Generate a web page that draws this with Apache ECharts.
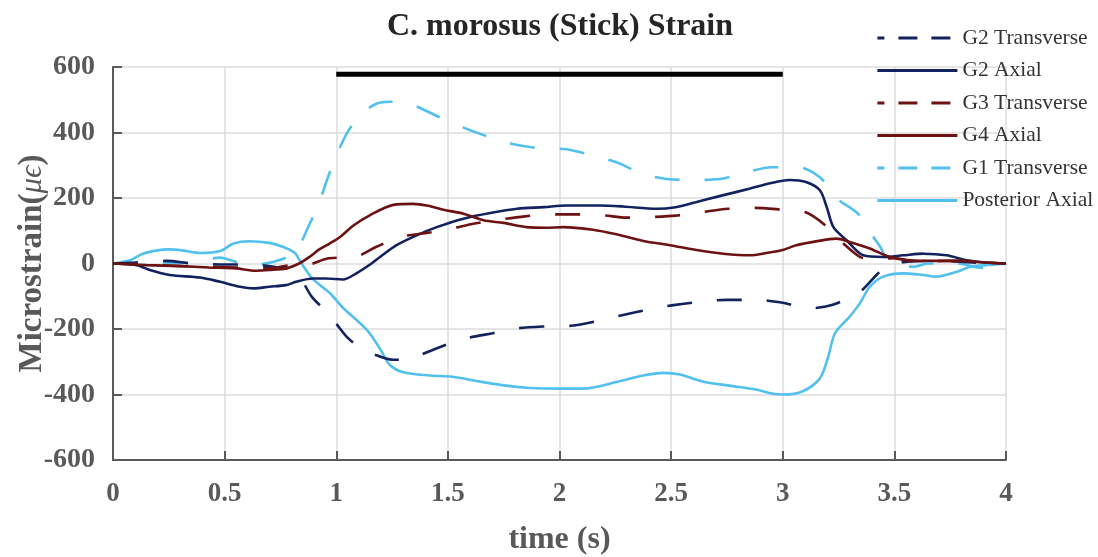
<!DOCTYPE html>
<html>
<head>
<meta charset="utf-8">
<script src="https://cdn.jsdelivr.net/npm/echarts@6/dist/echarts.min.js"></script>
<style>html,body{margin:0;padding:0;background:#fff}#c{width:1098px;height:557px}</style>
</head>
<body>
<div id="c"></div>
<script>
// ---- data (time s, microstrain) ----
const g2Transverse = [[0,0],[0.1,3],[0.24,8],[0.35,0],[0.48,-3],[0.59,-3],[0.72,-10],[0.82,-28],[0.89,-101],[0.97,-157],[1.046,-223],[1.12,-263],[1.2,-285],[1.256,-294],[1.33,-292],[1.36,-284],[1.48,-251],[1.584,-228],[1.70,-213],[1.81,-198],[1.94,-192],[2.054,-190],[2.18,-174],[2.285,-157],[2.405,-140],[2.51,-127],[2.644,-116],[2.75,-111],[2.88,-111],[3.0,-120],[3.115,-137],[3.22,-127],[3.346,-86],[3.42,-35],[3.47,-5],[3.55,5],[3.7,8],[3.85,3],[4,0]];
const g2Axial = [[0,0],[0.106,-5],[0.165,-20],[0.254,-35],[0.39,-43],[0.48,-56],[0.57,-71],[0.63,-76],[0.70,-71],[0.775,-66],[0.82,-56],[0.894,-46],[0.954,-46],[1.03,-49],[1.09,-30],[1.158,0],[1.196,20],[1.27,56],[1.36,86],[1.45,111],[1.57,137],[1.69,154],[1.81,167],[1.93,172],[2.03,177],[2.18,177],[2.285,174],[2.435,167],[2.52,172],[2.61,187],[2.73,208],[2.85,228],[2.943,245],[3.03,255],[3.107,248],[3.167,223],[3.197,172],[3.227,111],[3.286,71],[3.36,25],[3.45,20],[3.54,25],[3.63,30],[3.734,25],[3.824,10],[3.91,3],[4,0]];
const g3Transverse = [[0,0],[0.2,-5],[0.4,-10],[0.6,-13],[0.7,-15],[0.8,-5],[0.86,-5],[0.96,15],[1.02,18],[1.084,20],[1.18,51],[1.285,81],[1.405,93],[1.51,106],[1.62,122],[1.73,134],[1.845,144],[1.965,150],[2.07,150],[2.196,147],[2.3,140],[2.42,142],[2.53,147],[2.64,157],[2.755,167],[2.875,170],[2.987,165],[3.1,157],[3.19,117],[3.28,56],[3.37,15],[3.45,15],[3.5,16],[3.61,4],[3.72,8],[3.83,8],[3.92,3],[4,0]];
const g4Axial = [[0,0],[0.15,-5],[0.30,-8],[0.43,-12],[0.55,-15],[0.64,-22],[0.70,-20],[0.776,-15],[0.834,0],[0.88,20],[0.924,43],[0.97,61],[1.017,81],[1.077,116],[1.15,147],[1.256,179],[1.345,182],[1.405,177],[1.48,164],[1.57,152],[1.66,132],[1.75,124],[1.853,111],[1.94,109],[2.017,111],[2.15,103],[2.255,89],[2.375,69],[2.494,56],[2.614,41],[2.733,30],[2.853,25],[2.927,32],[3.0,41],[3.06,56],[3.137,66],[3.24,76],[3.3,66],[3.39,46],[3.48,20],[3.57,10],[3.69,8],[3.81,8],[3.9,3],[4,0]];
const g1Transverse = [[0,0],[0.1,2],[0.2,3],[0.3,2],[0.4,10],[0.48,18],[0.55,5],[0.6,-3],[0.66,-2],[0.72,5],[0.81,30],[0.84,60],[0.874,111],[0.92,178],[0.96,258],[1.0,329],[1.054,405],[1.12,461],[1.18,488],[1.24,494],[1.3,492],[1.345,484],[1.465,446],[1.57,415],[1.69,385],[1.79,365],[1.91,352],[2.03,349],[2.15,329],[2.255,309],[2.375,273],[2.48,258],[2.6,255],[2.72,258],[2.84,279],[2.95,294],[3.07,294],[3.17,261],[3.24,200],[3.34,150],[3.406,81],[3.44,47],[3.465,15],[3.52,-5],[3.585,-10],[3.65,0],[3.78,0],[3.87,-12],[3.91,-14],[4,0]];
const posteriorAxial = [[0,0],[0.076,10],[0.134,30],[0.2,40],[0.25,43],[0.31,40],[0.39,32],[0.48,38],[0.54,61],[0.61,68],[0.70,63],[0.76,51],[0.815,32],[0.84,5],[0.896,-48],[0.972,-91],[1.03,-135],[1.14,-205],[1.2,-265],[1.24,-310],[1.3,-332],[1.42,-342],[1.52,-346],[1.64,-360],[1.76,-373],[1.87,-380],[2.0,-382],[2.106,-382],[2.256,-362],[2.375,-342],[2.465,-334],[2.54,-339],[2.64,-360],[2.76,-373],[2.88,-385],[2.95,-397],[3.0,-400],[3.09,-390],[3.167,-350],[3.204,-284],[3.234,-213],[3.3,-162],[3.346,-121],[3.39,-71],[3.45,-40],[3.54,-30],[3.63,-35],[3.69,-40],[3.78,-25],[3.84,-10],[3.91,-5],[4,0]];
const stimulusTimes = [1, 3];
const stimulusLevel = 578;
const seriesNames = ['G2 Transverse','G2 Axial','G3 Transverse','G4 Axial','G1 Transverse','Posterior Axial'];

const NAVY = '#12225e', MAROON = '#6c1212', LBLUE = '#52c0ee';
const serif = "'Liberation Serif','Times New Roman',serif";
const GRAY = '#595959';

function mk(name, data, color, dashed, z) {
  return {
    name, type: 'line', data, showSymbol: false, symbol: 'none', smooth: 0.3, z: z,
    lineStyle: { color, width: 2.6, type: dashed ? [25, 25] : 'solid', cap: 'butt' },
    itemStyle: { color }
  };
}

const chart = echarts.init(document.getElementById('c'));
const legendDash = { type: [19, 14], dashOffset: 12, width: 2.8 };
const legendSolid = { width: 2.8 };
const hideSym = { opacity: 0 };
chart.setOption({
  animation: false,
  title: {
    text: 'C. morosus (Stick) Strain', left: 555, top: 6, textAlign: 'center',
    textStyle: { fontFamily: serif, fontWeight: 'bold', fontSize: 32, color: '#262626' }
  },
  legend: {
    orient: 'vertical', left: 871, top: 22, itemWidth: 80, itemHeight: 14, itemGap: 10.5,
    textStyle: { fontFamily: serif, fontSize: 21.5, color: '#333' },
    itemStyle: hideSym,
    data: [
      { name: seriesNames[0], lineStyle: legendDash, itemStyle: hideSym },
      { name: seriesNames[1], lineStyle: legendSolid, itemStyle: hideSym },
      { name: seriesNames[2], lineStyle: legendDash, itemStyle: hideSym },
      { name: seriesNames[3], lineStyle: legendSolid, itemStyle: hideSym },
      { name: seriesNames[4], lineStyle: legendDash, itemStyle: hideSym },
      { name: seriesNames[5], lineStyle: legendSolid, itemStyle: hideSym }
    ]
  },
  grid: { left: 113, right: 92, top: 67, bottom: 97, containLabel: false, outerBoundsMode: 'none' },
  xAxis: {
    type: 'value', min: 0, max: 4, interval: 0.5,
    name: 'time (s)', nameLocation: 'middle', nameGap: 64, nameMoveOverlap: false,
    nameTextStyle: { fontFamily: serif, fontWeight: 'bold', fontSize: 32, color: GRAY },
    axisLine: { show: true, onZero: false, lineStyle: { color: GRAY, width: 2 } },
    axisTick: { show: true, inside: true, length: 9, lineStyle: { color: GRAY, width: 2 } },
    axisLabel: { fontFamily: serif, fontWeight: 'bold', fontSize: 27, color: GRAY, margin: 21 },
    splitLine: { show: true, lineStyle: { color: '#dcdcdc', width: 1.5 } }
  },
  yAxis: {
    type: 'value', min: -600, max: 600, interval: 200,
    name: 'Microstrain({i|μϵ})', nameLocation: 'middle', nameGap: 64, nameMoveOverlap: false,
    nameTextStyle: { fontFamily: serif, fontWeight: 'bold', fontSize: 33, color: GRAY,
      rich: { i: { fontFamily: serif, fontStyle: 'italic', fontWeight: 'normal', fontSize: 31, color: GRAY } } },
    axisLine: { show: true, onZero: false, lineStyle: { color: GRAY, width: 2 } },
    axisTick: { show: true, inside: true, length: 9, lineStyle: { color: GRAY, width: 2 } },
    axisLabel: { fontFamily: serif, fontWeight: 'bold', fontSize: 28, color: GRAY, margin: 18 },
    splitLine: { show: true, lineStyle: { color: '#dcdcdc', width: 1.5 } }
  },
  series: [
    mk(seriesNames[0], g2Transverse, NAVY, true, 3),
    mk(seriesNames[1], g2Axial, NAVY, false, 3),
    mk(seriesNames[2], g3Transverse, MAROON, true, 3),
    mk(seriesNames[3], g4Axial, MAROON, false, 3),
    mk(seriesNames[4], g1Transverse, LBLUE, true, 2),
    mk(seriesNames[5], posteriorAxial, LBLUE, false, 2),
    {
      name: 'stimulus', type: 'line', symbol: 'none', silent: true, z: 4,
      data: stimulusTimes.map(t => [t, stimulusLevel]),
      lineStyle: { color: '#000', width: 5, cap: 'butt' }
    }
  ]
});
</script>
</body>
</html>
